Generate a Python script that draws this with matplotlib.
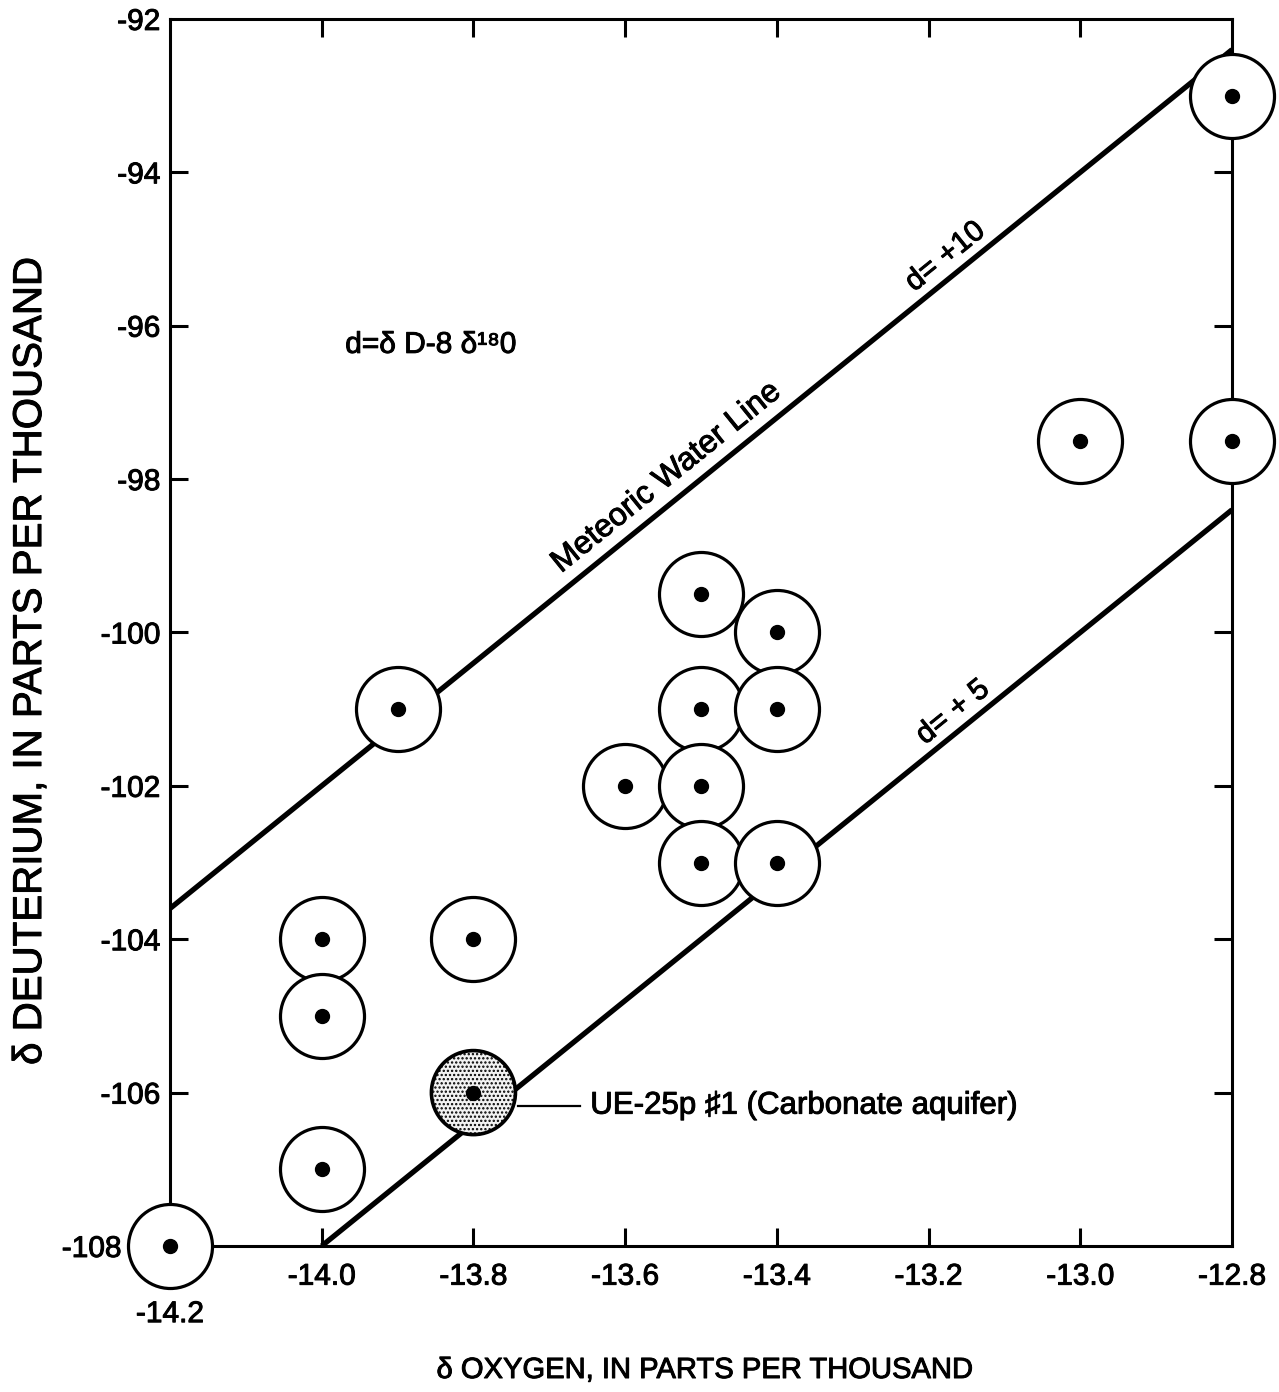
import numpy as np
import matplotlib.pyplot as plt
import matplotlib.patheffects as pe

plt.rcParams['font.family'] = ['Liberation Sans', 'DejaVu Sans']
plt.rcParams['hatch.linewidth'] = 1.1

# delta 18O and delta D of the sampled waters (parts per thousand)
oxygen = [-14.2, -14.0, -14.0, -14.0, -13.9, -13.8, -13.6, -13.5, -13.5,
          -13.5, -13.5, -13.4, -13.4, -13.4, -13.0, -12.8, -12.8]
deuterium = [-108, -104, -105, -107, -101, -104, -102, -99.5, -101,
             -102, -103, -100, -101, -103, -97.5, -93, -97.5]

# carbonate aquifer sample UE-25p #1
carb_oxygen = [-13.8]
carb_deuterium = [-106]

# lines dD = 8 d18O + d
mwl_d = 10
mwl_x = [-14.2, -12.8]
lower_d = 4
lower_x = [-14.0, -12.8]

x_ticks = [-14.2, -14.0, -13.8, -13.6, -13.4, -13.2, -13.0, -12.8]
y_ticks = [-108, -106, -104, -102, -100, -98, -96, -94, -92]

# a thin stroke to give the text the heavier print look
ink = [pe.withStroke(linewidth=0.7, foreground='black')]

fig = plt.figure(figsize=(12.79, 13.92), dpi=100)
ax = fig.add_axes([0.1329, 0.1049, 0.9633 - 0.1329, 0.9864 - 0.1049])
ax.set_xlim(-14.2, -12.8)
ax.set_ylim(-108, -92)

for side in ['left', 'right', 'top', 'bottom']:
    ax.spines[side].set_linewidth(2.2)

ax.set_xticks(x_ticks)
ax.set_xticklabels(['%.1f' % v for v in x_ticks])
ax.set_yticks(y_ticks)
ax.set_yticklabels(['%d' % v for v in y_ticks])
ax.tick_params(direction='in', length=13, width=2.2, top=True, right=True,
               labelsize=21.5)
ax.tick_params(axis='x', pad=12)
ax.tick_params(axis='y', pad=7)
for lab in ax.get_xticklabels() + ax.get_yticklabels():
    lab.set_path_effects(ink)

# corner tick labels are pushed away from the circle at (-14.2, -108)
xt0 = ax.xaxis.get_major_ticks()[0]
xt0.set_pad(39)
xt0.tick1line.set_visible(False)
xt0.tick2line.set_visible(False)
yt0 = ax.yaxis.get_major_ticks()[0]
yt0.set_pad(35)
yt0.tick1line.set_visible(False)
yt0.tick2line.set_visible(False)
for t in [ax.xaxis.get_major_ticks()[-1], ax.yaxis.get_major_ticks()[-1]]:
    t.tick1line.set_visible(False)
    t.tick2line.set_visible(False)

mx = np.array(mwl_x)
lx = np.array(lower_x)
ax.plot(mx, 8 * mx + mwl_d, color='black', lw=3.8, solid_capstyle='butt', zorder=2)
ax.plot(lx, 8 * lx + lower_d, color='black', lw=3.8, solid_capstyle='butt', zorder=2)

ax.scatter(oxygen, deuterium, s=3660, facecolor='white', edgecolor='black',
           linewidth=2.3, zorder=4, clip_on=False)
ax.scatter(carb_oxygen, carb_deuterium, s=3660, facecolor='#f2f2f2',
           edgecolor='black', hatch='....', linewidth=2.6, zorder=4, clip_on=False)
ax.scatter(oxygen + carb_oxygen, deuterium + carb_deuterium, s=100, color='black',
           zorder=5, clip_on=False)

# angle of the lines on the page
p0 = ax.transData.transform((-14.0, -112 + 10))
p1 = ax.transData.transform((-13.0, -104 + 10))
angle = np.degrees(np.arctan2(p1[1] - p0[1], p1[0] - p0[0]))

ax.text(-13.545, -97.98, 'Meteoric Water Line', rotation=angle, fontsize=23,
        ha='center', va='center', rotation_mode='anchor', path_effects=ink)
ax.text(-13.178, -95.10, 'd= +10', rotation=angle, fontsize=21.5,
        ha='center', va='center', rotation_mode='anchor', path_effects=ink)
ax.text(-13.168, -101.04, 'd= + 5', rotation=angle, fontsize=21.5,
        ha='center', va='center', rotation_mode='anchor', path_effects=ink)
ax.text(-13.969, -96.25, 'd=δ D-8 δ¹⁸0', fontsize=21.5, ha='left', va='center',
        path_effects=ink)

ax.plot([-13.741, -13.66], [-106.17, -106.17], color='black', lw=1.6, zorder=3)
ax.text(-13.646, -106.17, 'UE-25p ♯1 (Carbonate aquifer)', fontsize=22.5,
        ha='left', va='center', path_effects=ink)

fig.text(0.5506, 0.0158, 'δ OXYGEN, IN PARTS PER THOUSAND', fontsize=21,
         ha='center', va='center', path_effects=ink)
fig.text(0.0235, 0.5244, 'δ DEUTERIUM, IN PARTS PER THOUSAND', fontsize=29,
         ha='center', va='center', rotation=90, path_effects=ink)

fig.savefig('out.png', dpi=100)
